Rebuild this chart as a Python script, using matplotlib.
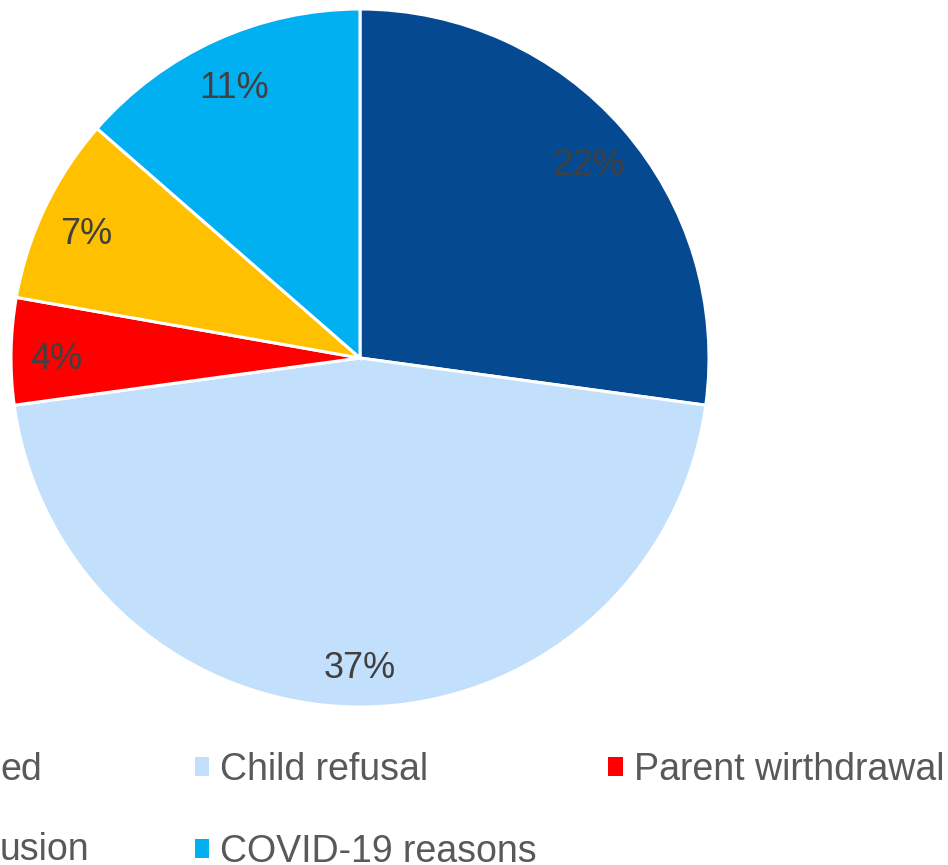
import matplotlib
matplotlib.use("Agg")
import matplotlib.pyplot as plt
from matplotlib.patches import Patch
from matplotlib.transforms import offset_copy

plt.rcParams['font.family'] = ['Liberation Sans', 'DejaVu Sans']

categories = ["Moved", "Child refusal", "Parent wirthdrawal", "Exclusion", "COVID-19 reasons"]
values = [22, 37, 4, 7, 11]
colors = ["#054A91", "#C2DFFB", "#FF0000", "#FFC000", "#00B0F0"]
total = sum(values)

W, H = 948, 865
fig = plt.figure(figsize=(W / 100, H / 100), dpi=100)
cx, cy, r = 360, 358, 349
ax = fig.add_axes([(cx - r) / W, (H - cy - r) / H, 2 * r / W, 2 * r / H])
wedges, texts, autotexts = ax.pie(
    values, colors=colors, startangle=90, counterclock=False,
    wedgeprops=dict(edgecolor="white", linewidth=2.2),
    autopct=lambda p: f"{round(p * total / 100)}%", pctdistance=0.87,
    textprops=dict(color="#404040", fontsize=26))
shift = offset_copy(ax.transData, fig=fig, x=0, y=-7, units="dots")
for t in autotexts:
    t.set_transform(shift)
ax.set_xlim(-1, 1)
ax.set_ylim(-1, 1)
ax.set_aspect("equal")
ax.axis("off")

# legend (left part of the original legend is cropped)
handles = [Patch(facecolor=colors[1]), Patch(facecolor=colors[4]), Patch(facecolor=colors[2])]
labels = [categories[1], categories[4], categories[2]]
fs = 27
fig.legend(handles, labels, ncol=2, loc="upper left",
           bbox_to_anchor=(195 / W, 1 - 752 / H), frameon=False,
           fontsize=fs, labelcolor="#595959", borderpad=0, borderaxespad=0,
           handlelength=0.38, handleheight=0.38, handletextpad=0.3,
           columnspacing=1.9, labelspacing=1.22)
fig.text(0, 1 - 770 / H, "ed", fontsize=fs, color="#595959", ha="left", va="center")
fig.text(0, 1 - 850 / H, "usion", fontsize=fs, color="#595959", ha="left", va="center")

fig.savefig("out.png", dpi=100)
